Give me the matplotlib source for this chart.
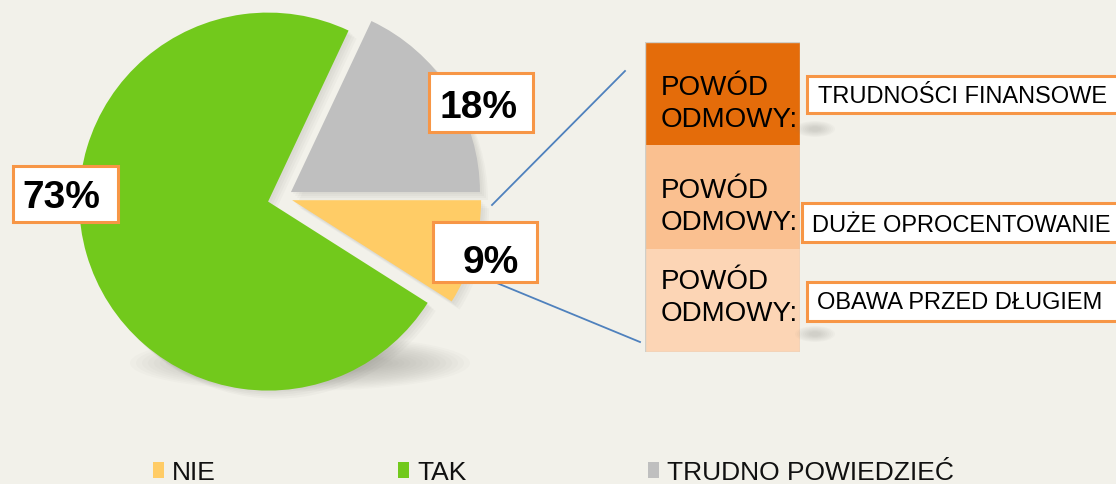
import matplotlib
matplotlib.use("Agg")
from matplotlib import pyplot as plt
from matplotlib.patches import Rectangle, Ellipse, Wedge
import numpy as np

# ------------------ data ------------------ #
# pie, clockwise from 3 o'clock
pie_labels = ["NIE", "TAK", "TRUDNO POWIEDZIEĆ"]
pie_values = [9, 73, 18]
pie_colors = ["#FFCC66", "#72C91C", "#BFBFBF"]

# breakdown of NIE (bottom -> top)
reason_labels = ["OBAWA PRZED DŁUGIEM", "DUŻE OPROCENTOWANIE", "TRUDNOŚCI FINANSOWE"]
reason_values = [3, 3, 3]
reason_colors = ["#FCD5B5", "#FAC090", "#E46C0A"]
reason_prefix = "POWÓD\nODMOWY:"

# ------------------ layout (pixels, from top) ------------------ #
W, H = 1116, 485
BG = "#F2F1EA"
BORDER = "#F79646"
LINE = "#4F81BD"
FONT = ["Liberation Sans", "DejaVu Sans"]

pie_center = (282.5, 198.4)
pie_radius = 189
pie_explode = [10, 15, 10]   # pixels

# value label boxes: x0, y0, x1, y1, text center x, baseline y
pct_boxes = [(433, 223, 537, 283, 491, 273),
             (13, 167, 118, 223, 61, 208),
             (429, 74, 533, 133, 478, 118)]

bar_box = (645, 43, 800, 353)
# per segment (bottom -> top): first baseline, label box y0, y1, label box x0, text x, text baseline
seg_layout = [(289, 283, 322, 807, 817, 309),
              (198, 204, 243, 802, 812, 232),
              (95, 77, 114, 807, 818, 103)]


def Y(y):
    return H - y


# ------------------ figure ------------------ #
fig = plt.figure(figsize=(W / 100, H / 100), dpi=100, facecolor=BG)
ax = fig.add_axes([0, 0, 1, 1])
ax.set_facecolor("none")
ax.set_zorder(2)

# soft shadow under the pie
for i in range(14):
    ax.add_patch(Ellipse((300, Y(364)), 340 * (1 - i * 0.035), 56 * (1 - i * 0.05),
                         facecolor="#7d7c74", edgecolor="none", alpha=0.03, zorder=1))

wedges, _ = ax.pie(pie_values, colors=pie_colors, explode=pie_explode,
                   startangle=0, counterclock=False, radius=pie_radius,
                   center=(pie_center[0], Y(pie_center[1])),
                   wedgeprops=dict(linewidth=0, zorder=3))

# offset shadow of the wedges (bottom-right)
for w in wedges:
    for k in range(1, 5):
        ax.add_patch(Wedge((w.center[0] + 2 * k, w.center[1] - 2 * k), w.r, w.theta1, w.theta2,
                           facecolor="#6e6d66", edgecolor="none", alpha=0.045, zorder=2))

ax.set_aspect("auto")
ax.set_xlim(0, W)
ax.set_ylim(0, H)
ax.set_axis_off()

# value labels
for v, (x0, y0, x1, y1, tx, ty) in zip(pie_values, pct_boxes):
    ax.add_patch(Rectangle((x0, Y(y1)), x1 - x0, y1 - y0, facecolor="white",
                           edgecolor=BORDER, linewidth=2.2, zorder=6))
    ax.text(tx, Y(ty), f"{v}%", ha="center", va="baseline", fontsize=28,
            fontweight="bold", family=FONT, color="black", zorder=7)

# connector lines
ax.plot([492, 625], [Y(206), Y(72)], color=LINE, linewidth=1.3, zorder=4)
ax.plot([492, 640], [Y(282), Y(343)], color=LINE, linewidth=1.3, zorder=4)

# ------------------ bar of pie ------------------ #
bx0, by0, bx1, by1 = bar_box
bax = fig.add_axes([bx0 / W, (H - by1) / H, (bx1 - bx0) / W, (by1 - by0) / H])
bax.set_zorder(1)
bottoms = np.concatenate([[0], np.cumsum(reason_values)[:-1]])
bax.bar(0, reason_values, bottom=bottoms, width=1.0, color=reason_colors,
        edgecolor="none", linewidth=0)
bax.set_xlim(-0.5, 0.5)
bax.set_ylim(0, sum(reason_values))
bax.set_axis_off()
bax.add_patch(Rectangle((-0.5, 0), 1.0, sum(reason_values), fill=False,
                        edgecolor="#D0CFC8", linewidth=1.0))

# shadows to the right of the bar
for sy in (130, 335):
    for i in range(8):
        ax.add_patch(Ellipse((815, Y(sy)), 40 * (1 - i * 0.1), 16 * (1 - i * 0.1),
                             facecolor="#7d7c74", edgecolor="none", alpha=0.035, zorder=1))

for name, (b1, ly0, ly1, lx0, tx, ty) in zip(reason_labels, seg_layout):
    for j, part in enumerate(reason_prefix.split("\n")):
        ax.text(661, Y(b1 + 32 * j), part, ha="left", va="baseline", fontsize=20,
                family=FONT, color="black", zorder=7)
    ax.add_patch(Rectangle((lx0, Y(ly1)), 1140 - lx0, ly1 - ly0, facecolor="white",
                           edgecolor=BORDER, linewidth=2.2, zorder=6, clip_on=False))
    ax.text(tx, Y(ty), name, ha="left", va="baseline", fontsize=17,
            family=FONT, color="black", zorder=7)

# ------------------ legend ------------------ #
fig.legend(wedges, pie_labels, ncol=3, frameon=False, loc="lower left",
           bbox_to_anchor=(153 / W, 0), prop=dict(family=FONT, size=19),
           handlelength=0.42, handleheight=0.55, handletextpad=0.3,
           columnspacing=6.9, borderpad=0, borderaxespad=0, labelcolor="#111111")

fig.savefig("out.png", dpi=100, facecolor=BG)
